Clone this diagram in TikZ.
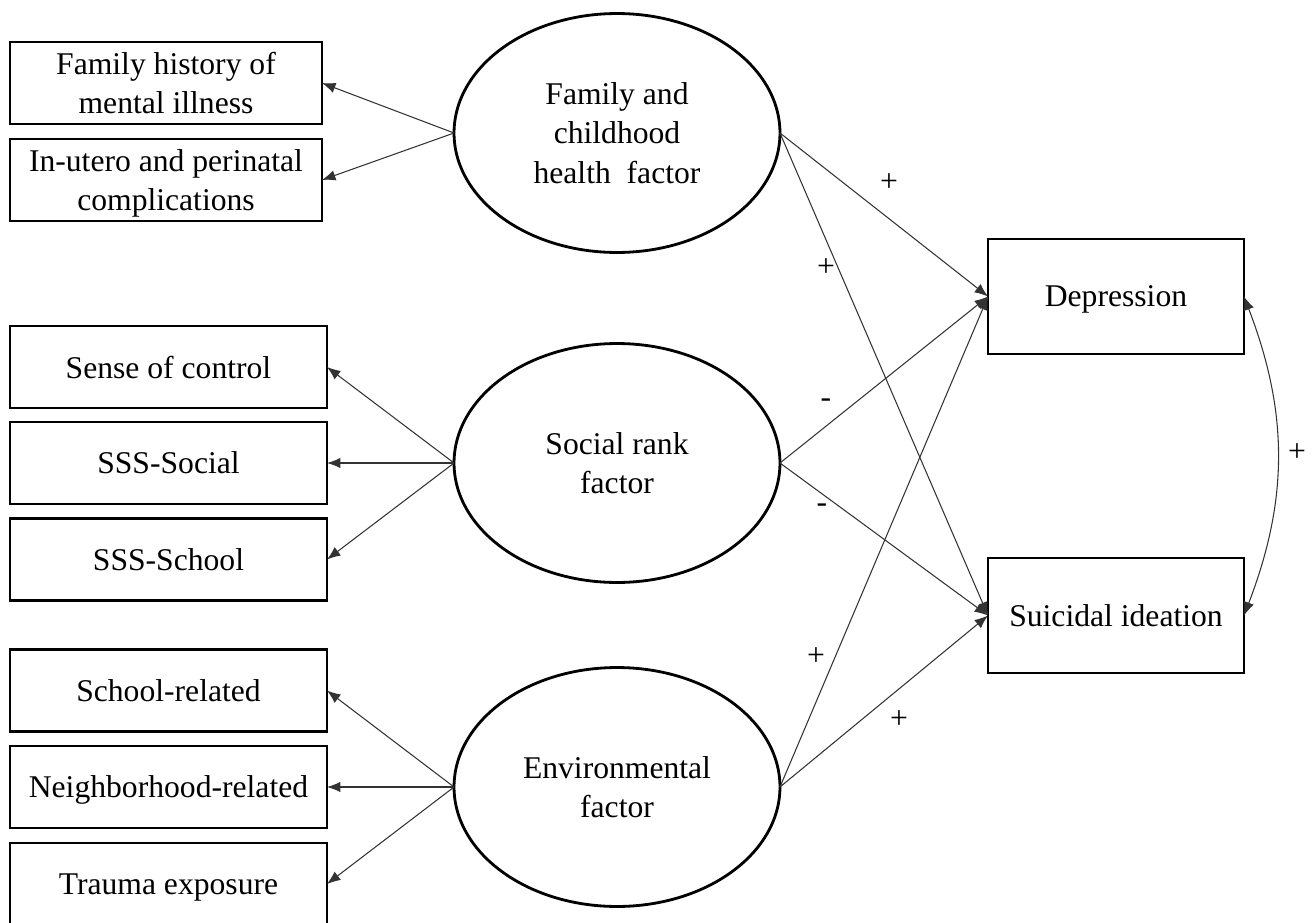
\documentclass[tikz,border=0pt]{standalone}
\usepackage{fontspec}
\setmainfont{Liberation Serif}
\usetikzlibrary{arrows.meta,shapes.geometric}
\begin{document}
\begin{tikzpicture}[x=0.02cm,y=-0.02cm,
  every node/.style={font=\fontsize{18}{22.4}\selectfont, text depth=0pt},
  boxa/.style={draw, line width=1.2pt, inner sep=0pt, outer sep=0pt, minimum width=6.24cm, minimum height=1.64cm, align=center},
  boxb/.style={boxa, minimum width=6.34cm},
  boxr/.style={draw, line width=1.5pt, inner sep=0pt, outer sep=0pt, minimum width=5.12cm, minimum height=2.3cm, align=center},
  latent/.style={draw, ellipse, line width=1.6pt, inner sep=0pt, outer sep=0pt, minimum width=6.52cm, minimum height=4.78cm, align=center},
  path/.style={draw=black!80, line width=0.6pt, -{Latex[length=0.27cm,width=0.21cm]}},
  sign/.style={inner sep=0pt}
]
\useasboundingbox (0,0) rectangle (1312,923);
\clip (0,0) rectangle (1312,923);

% latent factors
\node[latent] (F) at (617,133) {Family and\\childhood\\health\ \ factor};
\node[latent] (R) at (617,463) {Social rank\\factor};
\node[latent] (E) at (617,787) {Environmental\\factor};

% indicators
\node[boxa] (f1) at (166,83) {Family history of\\mental illness};
\node[boxa] (f2) at (166,180) {In-utero and perinatal\\complications};
\node[boxb] (r1) at (168.5,367) {Sense of control};
\node[boxb] (r2) at (168.5,463) {SSS-Social};
\node[boxb] (r3) at (168.5,559.5) {SSS-School};
\node[boxb] (e1) at (168.5,690.5) {School-related};
\node[boxb] (e2) at (168.5,787) {Neighborhood-related};
\node[boxb] (e3) at (168.5,884) {Trauma exposure};

% outcomes
\node[boxr] (D) at (1116,296.5) {Depression};
\node[boxr] (S) at (1116,615.5) {Suicidal ideation};

% measurement paths
\draw[path] (F.west) -- (f1.east);
\draw[path] (F.west) -- (f2.east);
\draw[path] (R.west) -- (r1.east);
\draw[path] (R.west) -- (r2.east);
\draw[path] (R.west) -- (r3.east);
\draw[path] (E.west) -- (e1.east);
\draw[path] (E.west) -- (e2.east);
\draw[path] (E.west) -- (e3.east);

% structural paths
\draw[path] (F.east) -- (D.west);
\draw[path] (F.east) -- (S.west);
\draw[path] (R.east) -- (D.west);
\draw[path] (R.east) -- (S.west);
\draw[path] (E.east) -- (D.west);
\draw[path] (E.east) -- (S.west);

% covariance
\draw[draw=black!80, line width=0.6pt, {Latex[length=0.27cm,width=0.21cm]}-{Latex[length=0.27cm,width=0.21cm]}] (D.east) to[bend left=21] (S.east);

% signs
\node[sign] (s1) at (889,183) {+};
\node[sign] (s2) at (826,268) {+};
\node[sign] (s3) at (826,403) {-};
\node[sign] (s4) at (822,508) {-};
\node[sign] (s5) at (816,657) {+};
\node[sign] (s6) at (899,720) {+};
\node[sign] (s7) at (1297,453) {+};
\end{tikzpicture}
\end{document}
